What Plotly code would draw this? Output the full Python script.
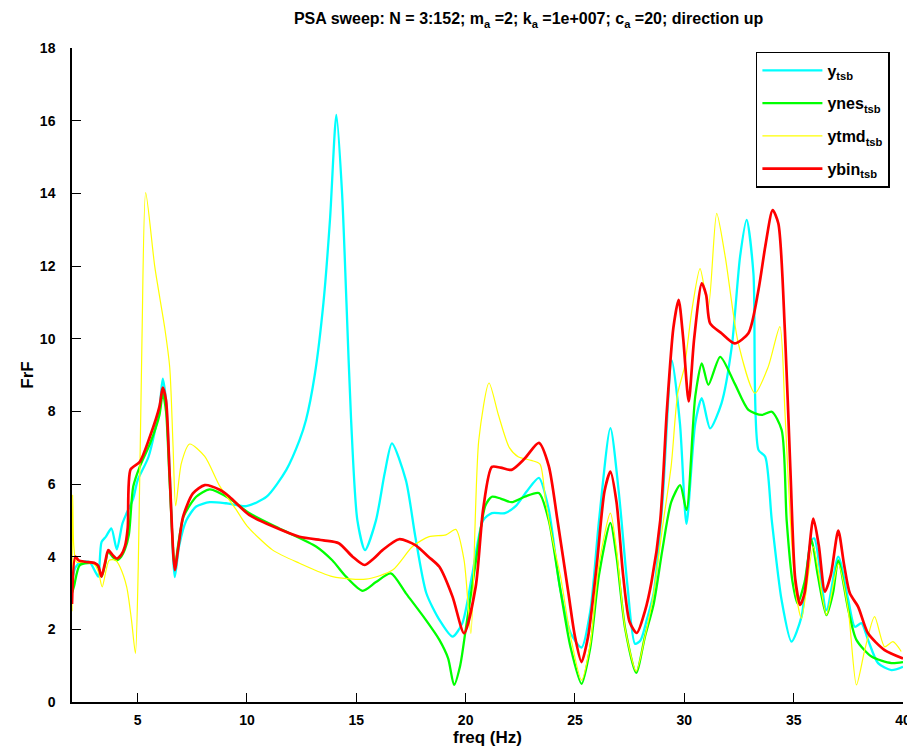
import plotly.graph_objects as go

# y_tsb (cyan)
y_f = [2.0, 2.15, 2.4, 2.8, 3.05, 3.2, 3.35, 3.55, 3.8, 4.05, 4.3, 4.5, 4.8, 5.0, 5.5, 6.0, 6.15, 6.3, 6.47, 6.7,
       6.9, 7.23, 7.68, 8.3, 9.05, 9.97, 10.9, 11.8, 12.4, 12.7, 13.1, 13.5, 13.8, 14.09, 14.35, 14.55, 14.76, 15.05,
       15.4, 15.9, 16.3, 16.63, 17.27, 17.7, 18.2, 18.8, 19.4, 19.85, 20.3, 20.8, 21.2, 21.8, 22.3, 22.8, 23.35,
       23.8, 24.3, 24.8, 25.3, 25.7, 26.1, 26.62, 27.0, 27.4, 27.75, 28.0, 28.3, 28.6, 29.0, 29.43, 29.8, 30.1, 30.5,
       30.8, 31.18, 31.7, 32.17, 32.55, 32.85, 33.16, 33.39, 33.7, 34.0, 34.45, 34.9, 35.36, 35.8, 35.95, 36.5,
       37.04, 37.5, 37.8, 38.1, 38.4, 38.86, 39.47, 40.0]
y_v = [3.3, 3.7, 3.85, 3.85, 3.6, 3.45, 4.4, 4.55, 4.78, 4.2, 4.9, 5.2, 5.6, 6.1, 6.75, 8.1, 8.9, 8.3, 6.3, 3.44,
       4.3, 5.0, 5.38, 5.5, 5.47, 5.39, 5.65, 6.39, 7.2, 7.76, 9.0, 11.0, 13.3, 16.16, 14.0, 11.0, 7.8, 5.0,
       4.18, 5.0, 6.3, 7.12, 6.1, 4.55, 3.0, 2.26, 1.8, 2.17, 3.5, 5.0, 5.2, 5.2, 5.4, 5.8, 6.17,
       5.3, 3.2, 1.9, 1.5, 2.5, 5.0, 7.54, 5.8, 3.2, 1.6, 1.7, 2.3, 3.0, 5.5, 9.4, 7.67, 4.9, 7.67,
       8.36, 7.53, 8.22, 9.78, 12.26, 13.27, 11.8, 6.94, 6.75, 5.0, 2.8, 1.66, 2.35, 4.46, 4.5, 2.53,
       4.0, 2.8, 2.07, 2.17, 1.71, 1.07, 0.88, 0.97]

# ynes_tsb (green)
ynes_f = [2.0, 2.1, 2.36, 3.05, 3.2, 3.35, 3.5, 3.66, 3.85, 4.04, 4.25, 4.42, 4.6, 4.8, 5.1, 5.56, 6.0, 6.15, 6.3,
          6.47, 6.7, 6.85, 7.1, 7.68, 8.3, 9.2, 10.1, 11.64, 13.16, 13.9, 14.53, 15.29, 15.9, 16.58, 17.27, 18.18,
          18.8, 19.2, 19.47, 19.75, 20.0, 20.5, 20.9, 21.2, 21.6, 22.1, 22.7, 23.35, 23.8, 24.3, 24.8, 25.3, 25.7,
          26.1, 26.62, 26.9, 27.3, 27.8, 28.2, 28.6, 29.0, 29.4, 29.81, 30.1, 30.5, 30.8, 31.1, 31.64, 32.3, 32.93,
          33.54, 34.0, 34.45, 34.68, 34.95, 35.18, 35.5, 35.82, 36.1, 36.5, 36.8, 37.04, 37.5, 37.87, 38.56, 39.47,
          40.0]
ynes_v = [3.0, 3.2, 3.77, 3.82, 3.7, 3.45, 3.75, 4.13, 4.0, 3.9, 4.0, 4.2, 4.6, 5.93, 6.48, 7.1, 7.9, 8.5, 8.0,
          6.0, 3.7, 4.3, 5.1, 5.65, 5.85, 5.6, 5.2, 4.73, 4.28, 3.9, 3.45, 3.06, 3.3, 3.54, 2.99, 2.26,
          1.71, 1.2, 0.47, 1.0, 1.98, 4.0, 5.4, 5.65, 5.6, 5.5, 5.65, 5.75, 5.0, 3.2, 1.5, 0.5, 1.5,
          3.5, 4.93, 4.0, 2.0, 0.8, 1.8, 2.7, 4.2, 5.5, 5.97, 5.28, 8.41, 9.32, 8.73, 9.5, 8.77, 8.04,
          7.9, 7.99, 7.49, 5.0, 3.3, 2.71, 3.3, 4.46, 3.5, 2.39, 3.0, 3.9, 2.53, 1.71, 1.25, 1.07,
          1.1]

# ytmd_tsb (yellow)
ytmd_f = [2.0, 2.03, 2.08, 2.2, 2.5, 3.0, 3.2, 3.38, 3.7, 4.0, 4.19, 4.5, 4.72, 4.9, 5.03, 5.2, 5.37, 5.79, 6.24,
          6.47, 6.62, 6.74, 7.0, 7.38, 8.07, 8.75, 9.5, 10.0, 11.18, 12.4, 13.92, 15.44, 16.66, 17.57, 18.33, 19.1,
          19.55, 19.93, 20.24, 20.6, 21.07, 21.5, 22.0, 22.4, 23.0, 23.4, 23.65, 24.0, 24.34, 24.8, 25.3, 25.7,
          26.1, 26.62, 26.9, 27.3, 27.8, 28.2, 28.6, 29.0, 29.4, 29.7, 30.0, 30.35, 30.72, 31.1, 31.48, 31.87,
          32.47, 33.23, 33.84, 34.37, 34.6, 34.85, 35.1, 35.36, 35.9, 36.5, 37.04, 37.5, 37.87, 38.25, 38.7,
          39.16, 39.54, 39.92]
ytmd_v = [2.5, 5.7, 4.3, 3.85, 3.85, 3.8, 3.6, 3.17, 3.9, 3.9, 3.72, 3.17, 2.26, 1.34, 3.72, 10.0, 14.02, 11.96,
          10.3, 9.2, 7.06, 5.4, 6.57, 7.1, 6.76, 5.95, 5.3, 4.85, 4.18, 3.82, 3.45, 3.38, 3.63, 4.28, 4.55, 4.6,
          4.75, 3.9, 1.89, 7.2, 8.78, 7.9, 7.0, 6.75, 6.65, 6.55, 5.56, 4.4, 3.45, 1.8, 0.6, 1.6,
          3.8, 5.2, 4.2, 2.0, 0.85, 1.8, 3.0, 4.8, 6.5, 8.5, 9.2, 10.8, 11.93, 10.88, 13.45, 12.26,
          9.87, 8.5, 9.23, 10.33, 8.0, 5.0, 3.0, 2.3, 4.27, 2.4, 3.8, 2.5, 0.47, 1.43, 2.35,
          1.52, 1.66, 1.39]

# ybin_tsb (red)
ybin_f = [2.0, 2.15, 2.3, 2.6, 3.05, 3.2, 3.35, 3.5, 3.66, 3.85, 4.04, 4.25, 4.42, 4.55, 4.68, 5.1, 5.56, 6.0, 6.15,
          6.3, 6.47, 6.7, 6.85, 7.08, 7.53, 8.07, 8.75, 9.2, 10.1, 11.2, 12.4, 13.5, 14.2, 14.83, 15.37, 15.8, 16.2,
          16.96, 17.7, 18.3, 18.8, 19.4, 19.93, 20.46, 20.8, 21.2, 21.6, 22.1, 22.7, 23.35, 23.8, 24.2, 24.7, 25.0,
          25.3, 25.6, 26.0, 26.35, 26.62, 26.9, 27.2, 27.5, 27.83, 28.2, 28.5, 28.9, 29.2, 29.5, 29.74, 29.95, 30.2,
          30.45, 30.8, 31.0, 31.18, 31.7, 32.3, 32.93, 33.39, 33.7, 34.04, 34.3, 34.6, 34.85, 35.07, 35.3, 35.5,
          35.9, 36.15, 36.43, 36.7, 37.04, 37.3, 37.57, 37.95, 38.4, 39.16, 40.0]
ybin_v = [2.7, 4.0, 3.9, 3.86, 3.82, 3.75, 3.45, 3.8, 4.18, 4.05, 3.95, 4.05, 4.28, 4.8, 6.4, 6.61, 7.3, 8.13, 8.65,
          8.3, 6.2, 3.63, 4.2, 5.1, 5.74, 5.97, 5.84, 5.65, 5.15, 4.83, 4.55, 4.45, 4.37, 4.0, 3.77, 3.95, 4.18,
          4.48, 4.32, 4.0, 3.72, 2.9, 1.89, 3.17, 5.3, 6.47, 6.45, 6.39, 6.7, 7.13, 6.5, 5.0, 3.0, 1.8,
          1.1, 1.8, 3.8, 5.8, 6.34, 5.5, 3.5, 2.2, 1.9, 2.5, 3.3, 5.0, 8.0, 10.3, 11.07, 10.0, 8.27,
          10.0, 11.52, 11.2, 10.42, 10.15, 9.87, 10.15, 11.34, 12.53, 13.54, 13.17, 10.2, 6.4, 3.4, 2.67, 3.0,
          5.05, 4.3, 3.04, 3.5, 4.72, 3.8, 2.99, 2.62, 1.89, 1.43, 1.2]

series = [
    ("y<sub>tsb</sub>", y_f, y_v, "#00FFFF", 2.3),
    ("ynes<sub>tsb</sub>", ynes_f, ynes_v, "#00FF00", 2.3),
    ("ytmd<sub>tsb</sub>", ytmd_f, ytmd_v, "#FFFF00", 1.2),
    ("ybin<sub>tsb</sub>", ybin_f, ybin_v, "#FF0000", 2.7),
]

font = "Liberation Sans, Arial, sans-serif"

fig = go.Figure()
for name, f, v, col, w in series:
    fig.add_trace(go.Scatter(x=f, y=v, mode="lines", name=name, legendgroup=name,
                             line=dict(color=col, width=w, shape="spline", smoothing=0.7)))

# page body adds an 8px offset, so margins are shifted to compensate
fig.update_layout(
    width=915, height=755,
    margin=dict(l=64, r=18, t=40, b=61),
    paper_bgcolor="white", plot_bgcolor="white",
    font=dict(family=font, size=14, color="black", weight="bold"),
    title=dict(text="PSA sweep: N = 3:152; m<sub>a</sub> =2; k<sub>a</sub> =1e+007; c<sub>a</sub> =20; direction up",
               x=0.569, xanchor="center", y=0.986, yanchor="middle",
               font=dict(family=font, size=16, weight="bold")),
    legend=dict(x=0.823, y=0.994, xanchor="left", yanchor="top",
                bgcolor="white", bordercolor="black", borderwidth=1.5,
                tracegroupgap=9, itemwidth=60, entrywidth=100,
                font=dict(family=font, size=16, weight="bold")),
)
fig.update_xaxes(range=[2, 40], tick0=0, dtick=5, ticks="inside", ticklen=9, tickwidth=1.2,
                 tickcolor="black", showline=True, linecolor="black", linewidth=1.5,
                 showgrid=False, zeroline=False, ticklabelstandoff=4,
                 title=dict(text="freq (Hz)", standoff=4))
fig.update_yaxes(range=[0, 18], dtick=2, ticks="inside", ticklen=9, tickwidth=1.2,
                 tickcolor="black", showline=True, linecolor="black", linewidth=1.5,
                 showgrid=False, zeroline=False, ticklabelstandoff=12,
                 title=dict(text="FrF", standoff=2))

fig.write_html("out.html")
